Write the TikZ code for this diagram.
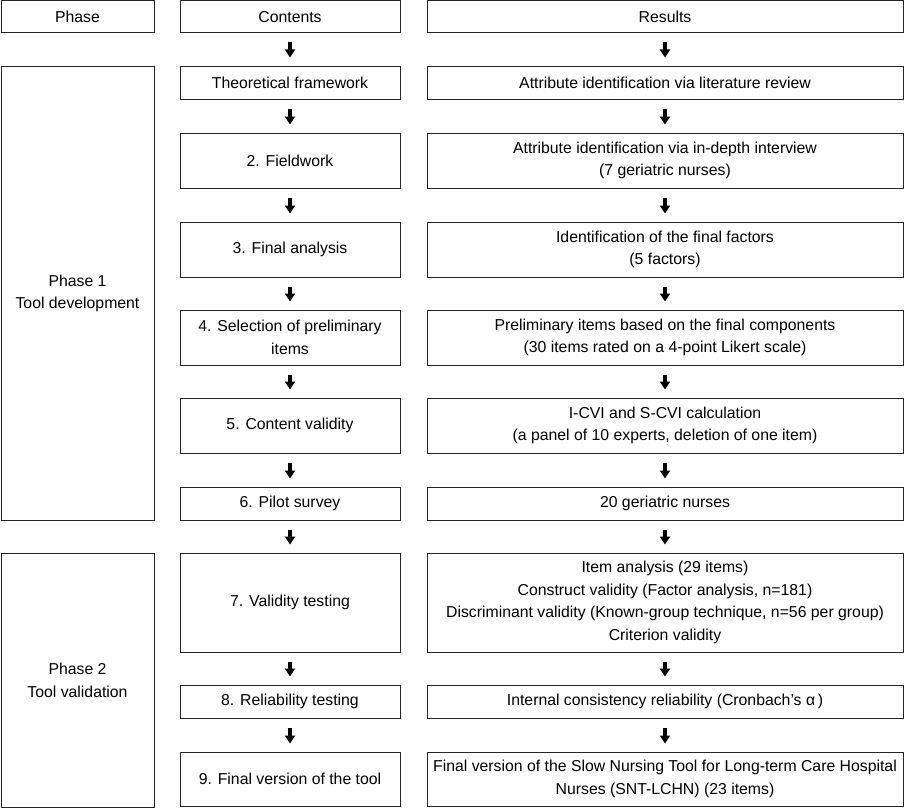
\documentclass[tikz,border=0pt]{standalone}
\usepackage{fontspec}
\setmainfont{Liberation Sans}
\usetikzlibrary{arrows.meta}
\begin{document}
\begin{tikzpicture}[x=1pt,y=-1pt,
  box/.style={draw=black!85, line width=1pt, align=center, inner sep=0pt,
    font=\fontsize{15.8}{22.5}\selectfont},
  arr/.style={line width=4.2pt, -{Triangle[width=10pt,length=8pt]}, black},
  phw/.style={minimum width=153pt},
  cw/.style={minimum width=220pt},
  rw/.style={minimum width=476pt}]
\useasboundingbox (0,0) rectangle (904,808);
% header
\node[box,phw,minimum height=32pt] (ph) at (77.5,17) {Phase};
\node[box,cw,minimum height=32pt] (c0) at (290,17) {Contents};
\node[box,rw,minimum height=32pt] (r0) at (665,17) {Results};
% phases
\node[box,phw,minimum height=454pt] (p1) at (77.5,293.5) {Phase 1\\Tool development};
\node[box,phw,minimum height=254pt] (p2) at (77.5,680.5) {Phase 2\\Tool validation};
% contents
\node[box,cw,minimum height=33pt] (c1) at (290,82.5) {Theoretical framework};
\node[box,cw,minimum height=55pt] (c2) at (290,160.5) {2. Fieldwork};
\node[box,cw,minimum height=55pt] (c3) at (290,249.5) {3. Final analysis};
\node[box,cw,minimum height=55pt] (c4) at (290,337.5) {4. Selection of preliminary\\items};
\node[box,cw,minimum height=55pt] (c5) at (290,425.5) {5. Content validity};
\node[box,cw,minimum height=33pt] (c6) at (290,503.5) {6. Pilot survey};
\node[box,cw,minimum height=99pt] (c7) at (290,602.5) {7. Validity testing};
\node[box,cw,minimum height=33pt] (c8) at (290,701.5) {8. Reliability testing};
\node[box,cw,minimum height=54pt] (c9) at (290,779) {9. Final version of the tool};
% results
\node[box,rw,minimum height=33pt] (r1) at (665,82.5) {Attribute identification via literature review};
\node[box,rw,minimum height=55pt] (r2) at (665,160.5) {Attribute identification via in-depth interview\\(7 geriatric nurses)};
\node[box,rw,minimum height=55pt] (r3) at (665,249.5) {Identification of the final factors\\(5 factors)};
\node[box,rw,minimum height=55pt] (r4) at (665,337.5) {Preliminary items based on the final components\\(30 items rated on a 4-point Likert scale)};
\node[box,rw,minimum height=55pt] (r5) at (665,425.5) {I-CVI and S-CVI calculation\\(a panel of 10 experts, deletion of one item)};
\node[box,rw,minimum height=33pt] (r6) at (665,503.5) {20 geriatric nurses};
\node[box,rw,minimum height=99pt] (r7) at (665,602.5) {Item analysis (29 items)\\Construct validity (Factor analysis, n=181)\\Discriminant validity (Known-group technique, n=56 per group)\\Criterion validity};
\node[box,rw,minimum height=33pt] (r8) at (665,701.5) {Internal consistency reliability (Cronbach's~α\,)};
\node[box,rw,minimum height=54pt] (r9) at (665,779) {Final version of the Slow Nursing Tool for Long-term Care Hospital\\Nurses (SNT-LCHN) (23 items)};
% arrows
\foreach \a/\b in {c0/c1,c1/c2,c2/c3,c3/c4,c4/c5,c5/c6,c6/c7,c7/c8,c8/c9,
                   r0/r1,r1/r2,r2/r3,r3/r4,r4/r5,r5/r6,r6/r7,r7/r8,r8/r9}
  \draw[arr] ([yshift=-9pt]\a.south) -- ([yshift=8pt]\b.north);
\end{tikzpicture}
\end{document}
